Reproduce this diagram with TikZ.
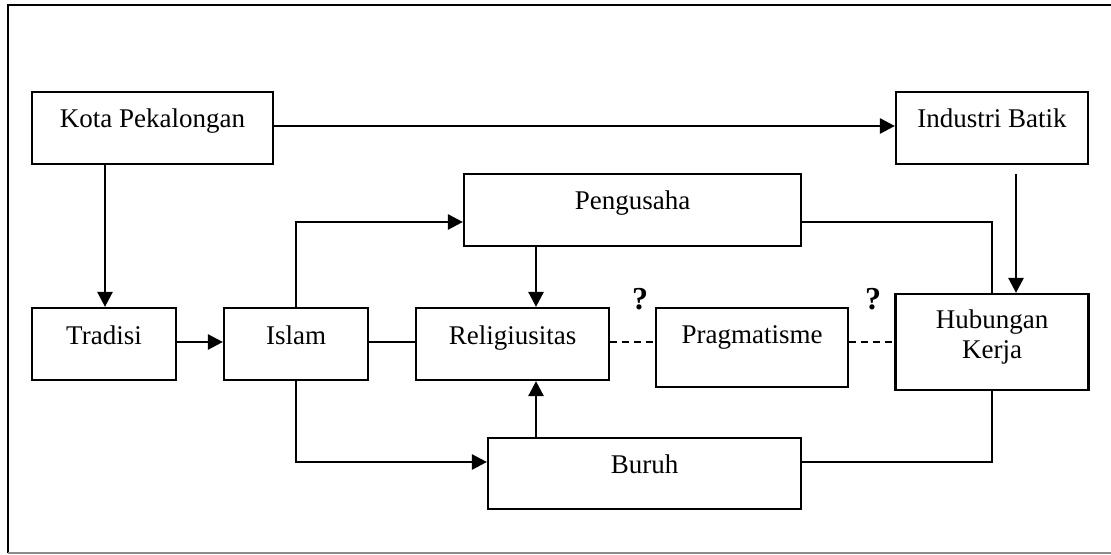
\documentclass[tikz,border=0pt]{standalone}
\usepackage{fontspec}
\setmainfont{Liberation Serif}
\usetikzlibrary{arrows.meta}
\begin{document}
\begin{tikzpicture}[x=0.5pt,y=-0.5pt,
  lbl/.style={font=\fontsize{13.5}{15}\selectfont},
  box/.style={draw,line width=1.1pt,inner sep=0pt,minimum height=36pt,
    text height=0pt,text depth=0pt,lbl},
  conn/.style={line width=1.1pt},
  arr/.style={line width=1.3pt,-{Triangle[length=7.5pt,width=7.5pt]}},
  dashline/.style={line width=1.2pt,dash pattern=on 3.5pt off 2.5pt},
  qmark/.style={inner sep=0pt,text height=0pt,text depth=0pt,
    font=\fontsize{16}{18}\selectfont\bfseries},
  frame/.style={line width=1.1pt}]
\useasboundingbox (0,0) rectangle (1111,555);

% outer frame (open on the right)
\draw[frame] (1111,5) -- (8,5) -- (8,553);
\draw[frame,black!45] (8,553) -- (1111,553);

% boxes
\node[box,minimum width=120.5pt] (kota) at (152.5,128) {Kota Pekalongan};
\node[box,minimum width=96pt] (industri) at (992,128) {Industri Batik};
\node[box,minimum width=168.5pt] (pengusaha) at (632.5,210) {Pengusaha};
\node[box,minimum width=72pt] (tradisi) at (104,344) {Tradisi};
\node[box,minimum width=72pt] (islam) at (296,344) {Islam};
\node[box,minimum width=96.5pt] (relig) at (512.5,344) {Religiusitas};
\node[box,minimum width=96pt,minimum height=39.5pt,text depth=4.5pt] (prag) at (752,347.5) {Pragmatisme};
\node[box,minimum width=96.5pt,minimum height=48pt] (hub) at (992,342) {};
\node[lbl,align=center,inner sep=0pt] (hubtext) at (992,337) {Hubungan\\Kerja};
\node[box,minimum width=156.5pt,minimum height=35.5pt] (buruh) at (644.5,473.5) {Buruh};

% question marks on the dashed links
\node[qmark] (q1) at (640,309) {?};
\node[qmark] (q2) at (873,309) {?};

% helper levels for the routed lines
\coordinate (upper) at (0,222);
\coordinate (lower) at (0,462);
\coordinate (mid) at (0,342);

% connectors
\draw[arr] (kota.east |- 0,126) -- (industri.west |- 0,126);
\draw[arr] (kota.south -| 105,0) -- (tradisi.north -| 105,0);
\draw[arr,shorten <=4.5pt] (industri.south -| 1016,0) -- (hub.north -| 1016,0);
\draw[arr] (tradisi.east |- mid) -- (islam.west |- mid);
\draw[conn] (islam.east |- mid) -- (relig.west |- mid);
\draw[arr] (islam.north) -- (islam.north |- upper) -- (pengusaha.west |- upper);
\draw[arr] (islam.south) -- (islam.south |- lower) -- (buruh.west |- lower);
\draw[arr] (pengusaha.south -| 536,0) -- (relig.north -| 536,0);
\draw[arr] (buruh.north -| 536,0) -- (relig.south -| 536,0);
\draw[dashline] (relig.east |- mid) -- (prag.west |- mid);
\draw[dashline] (prag.east |- mid) -- (hub.west |- mid);
\draw[conn] (pengusaha.east |- upper) -- (hub.north |- upper) -- (hub.north);
\draw[conn] (buruh.east |- lower) -- (hub.south |- lower) -- (hub.south);
\end{tikzpicture}
\end{document}
